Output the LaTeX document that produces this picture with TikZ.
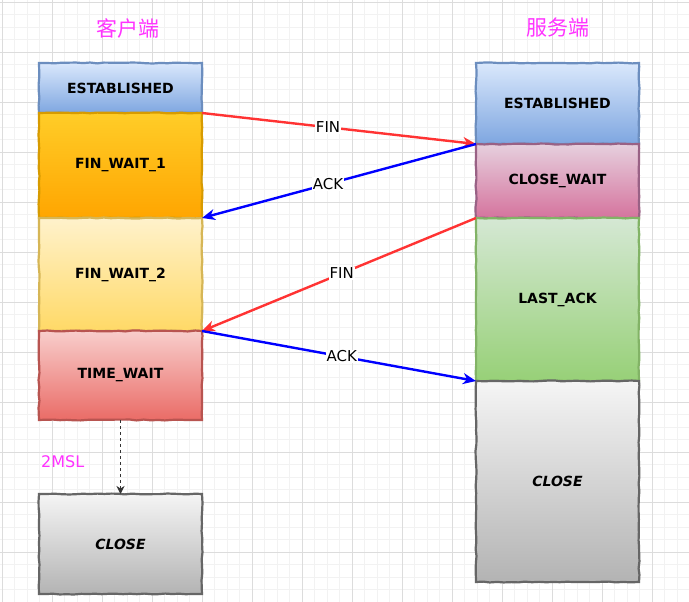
\documentclass[tikz,border=0pt]{standalone}
\usepackage{fontspec}
\setmainfont{DejaVu Sans}
\newfontfamily\cjkfont{Noto Sans CJK SC}
\usepackage{xcolor}
\usepackage{tikz}
\usetikzlibrary{arrows.meta, positioning, decorations.pathmorphing}
\definecolor{TitlePink}{HTML}{FF33FF}
\definecolor{FinRed}{HTML}{FF3333}
\definecolor{AckBlue}{HTML}{0000FF}
\definecolor{GridMinor}{HTML}{F2F2F2}
\definecolor{GridMajor}{HTML}{DCDCDC}
\definecolor{EstTop}{HTML}{DAE8FC}\definecolor{EstBot}{HTML}{7EA6E0}\definecolor{EstLine}{HTML}{6C8EBF}
\definecolor{FwaTop}{HTML}{FFCD28}\definecolor{FwaBot}{HTML}{FFA500}\definecolor{FwaLine}{HTML}{D79B00}
\definecolor{FwbTop}{HTML}{FFF2CC}\definecolor{FwbBot}{HTML}{FFD966}\definecolor{FwbLine}{HTML}{D6B656}
\definecolor{TwTop}{HTML}{F8CECC}\definecolor{TwBot}{HTML}{EA6B66}\definecolor{TwLine}{HTML}{B85450}
\definecolor{ClTop}{HTML}{F5F5F5}\definecolor{ClBot}{HTML}{B3B3B3}\definecolor{ClLine}{HTML}{666666}
\definecolor{CwTop}{HTML}{E6D0DE}\definecolor{CwBot}{HTML}{D5739D}\definecolor{CwLine}{HTML}{996185}
\definecolor{LaTop}{HTML}{D5E8D4}\definecolor{LaBot}{HTML}{97D077}\definecolor{LaLine}{HTML}{82B366}

\tikzset{
  sketchy/.style={decorate, decoration={random steps, segment length=7pt, amplitude=0.5pt}},
  state/.style={draw, sketchy, line width=2.2pt, minimum width=163pt, inner sep=0pt, outer sep=0pt,
                font=\fontsize{14}{16}\selectfont\bfseries, text=black},
  est/.style={state, draw=EstLine, top color=EstTop, bottom color=EstBot},
  fwa/.style={state, draw=FwaLine, top color=FwaTop, bottom color=FwaBot},
  fwb/.style={state, draw=FwbLine, top color=FwbTop, bottom color=FwbBot},
  tw/.style={state, draw=TwLine, top color=TwTop, bottom color=TwBot},
  cl/.style={state, draw=ClLine, top color=ClTop, bottom color=ClBot},
  cw/.style={state, draw=CwLine, top color=CwTop, bottom color=CwBot},
  la/.style={state, draw=LaLine, top color=LaTop, bottom color=LaBot},
  side/.style={text=TitlePink, font=\fontsize{21}{24}\selectfont\cjkfont},
  msg/.style={line width=2.4pt, -{Stealth[length=13pt, width=11pt, inset=4pt]}},
  msglabel/.style={fill=white, inner sep=1pt, text=black, font=\fontsize{15}{18}\selectfont}
}

\begin{document}
\begin{tikzpicture}[x=1pt, y=-1pt]
        % background and grid
        \fill[white] (0,0) rectangle (689,602);
        \useasboundingbox (0,0) rectangle (689,602);
        \foreach \i in {0,...,55} {
          \draw[GridMinor, line width=0.7pt] ({2+12.5*\i},0) -- ({2+12.5*\i},602);
          \draw[GridMinor, line width=0.7pt] (0,{2+12.5*\i}) -- (689,{2+12.5*\i});
        }
        \foreach \i in {0,...,13} {
          \draw[GridMajor, line width=0.7pt] ({2+50*\i},0) -- ({2+50*\i},602);
          \draw[GridMajor, line width=0.7pt] (0,{2+50*\i}) -- (689,{2+50*\i});
        }

        % client side
        \node[side] (clienttitle) at (128,28) {客户端};
        \node[est, minimum height=50pt] (cest) at (120.5,88) {ESTABLISHED};
        \node[fwa, minimum height=105pt, below=0pt of cest] (cfwa) {FIN\_WAIT\_1};
        \node[fwb, minimum height=113pt, below=0pt of cfwa] (cfwb) {FIN\_WAIT\_2};
        \node[tw, minimum height=89pt, below=0pt of cfwb] (ctw) {TIME\_WAIT};
        \node[cl, minimum height=100pt, below=74pt of ctw] (ccl) {\itshape CLOSE};

        % server side
        \node[side] (servertitle) at (558,28) {服务端};
        \node[est, minimum height=81pt] (sest) at (557.5,103.5) {ESTABLISHED};
        \node[cw, minimum height=74pt, below=0pt of sest] (scw) {CLOSE\_WAIT};
        \node[la, minimum height=163pt, below=0pt of scw] (sla) {LAST\_ACK};
        \node[cl, minimum height=201pt, below=0pt of sla] (scl) {\itshape CLOSE};

        % messages
        \draw[msg, FinRed] (cest.south east) -- node[msglabel, pos=0.46] {FIN} (sest.south west);
        \draw[msg, AckBlue] (scw.north west) -- node[msglabel, pos=0.54] {ACK} (cfwa.south east);
        \draw[msg, FinRed] (sla.north west) -- node[msglabel, pos=0.49] {FIN} (cfwb.south east);
        \draw[msg, AckBlue] (ctw.north east) -- node[msglabel, pos=0.51] {ACK} (scl.north west);

        % timeout
        \draw[dashed, line width=1.8pt, black!80, -{Stealth[length=8pt, width=8pt, inset=2.5pt]}]
          (ctw.south) -- node[midway, left=32pt, yshift=-5pt, text=TitlePink,
                              font=\fontsize{16}{19}\selectfont] {2MSL} (ccl.north);
      \end{tikzpicture}
\end{document}
